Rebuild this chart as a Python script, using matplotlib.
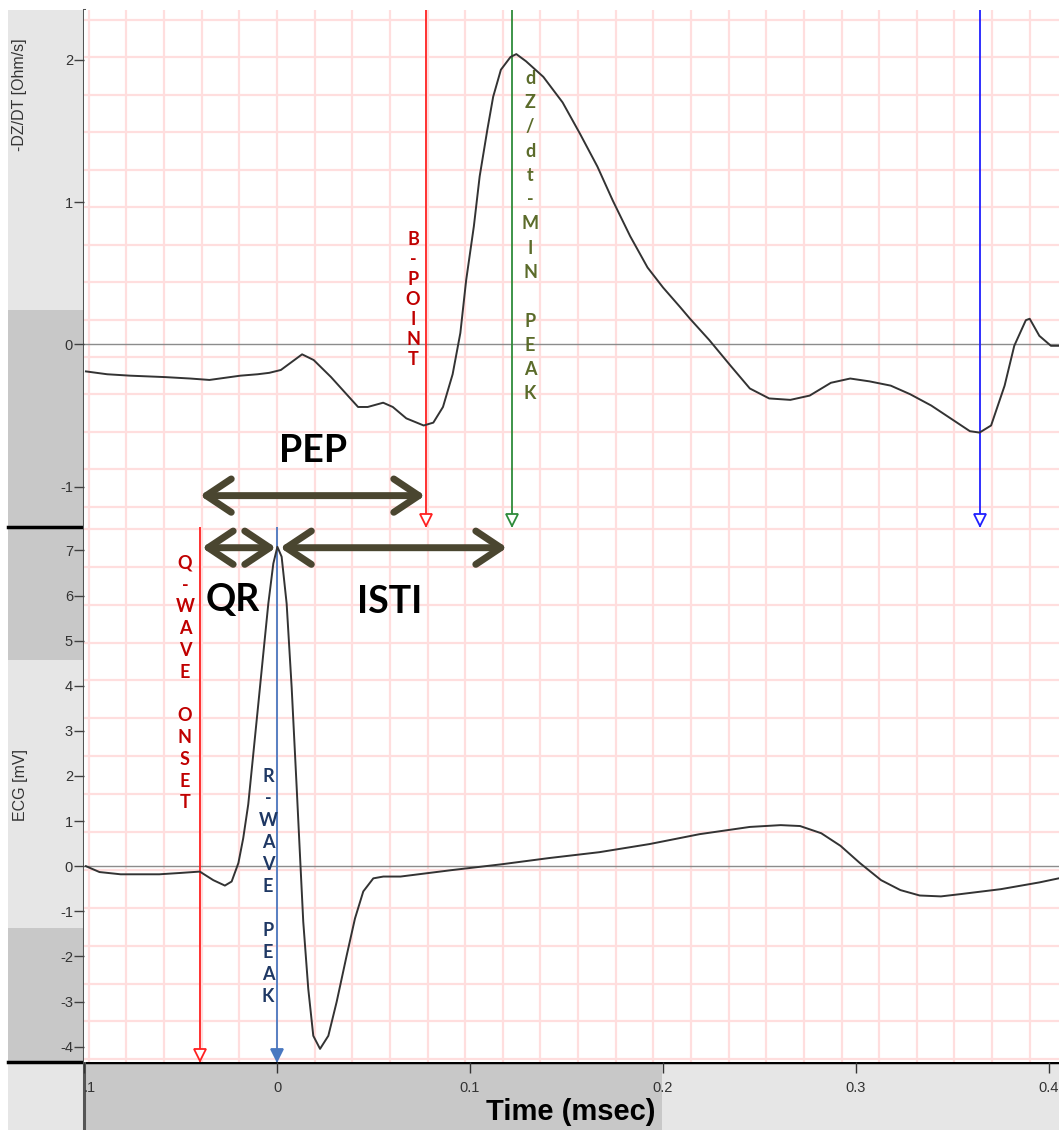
import matplotlib
matplotlib.use("Agg")
import matplotlib.pyplot as plt
from matplotlib.patches import Rectangle, FancyArrowPatch
import numpy as np

plt.rcParams.update({
    "font.family": ["Liberation Sans", "DejaVu Sans"],
    "font.size": 10,
    "axes.unicode_minus": False,
})

# impedance cardiogram (-dZ/dt), time in s
t_dzdt = [-0.099, -0.088, -0.076, -0.058, -0.045, -0.035, -0.019, -0.010, -0.004, 0.002,
          0.008, 0.013, 0.019, 0.028, 0.036, 0.042, 0.047, 0.055, 0.060, 0.067,
          0.076, 0.081, 0.086, 0.091, 0.095, 0.098, 0.102, 0.105, 0.109, 0.112,
          0.116, 0.121, 0.124, 0.129, 0.138, 0.148, 0.157, 0.166, 0.174, 0.183,
          0.192, 0.200, 0.209, 0.214, 0.224, 0.235, 0.245, 0.255, 0.266, 0.276,
          0.287, 0.297, 0.307, 0.318, 0.328, 0.339, 0.349, 0.359, 0.364, 0.370,
          0.377, 0.382, 0.388, 0.390, 0.395, 0.401, 0.405]
dzdt = [-0.19, -0.21, -0.22, -0.23, -0.24, -0.25, -0.22, -0.21, -0.20, -0.18,
        -0.12, -0.07, -0.11, -0.23, -0.35, -0.44, -0.44, -0.41, -0.44, -0.52,
        -0.57, -0.55, -0.44, -0.21, 0.08, 0.45, 0.83, 1.18, 1.51, 1.74,
        1.93, 2.02, 2.04, 1.99, 1.88, 1.70, 1.48, 1.25, 1.01, 0.76,
        0.54, 0.40, 0.26, 0.18, 0.03, -0.15, -0.31, -0.38, -0.39, -0.36,
        -0.27, -0.24, -0.26, -0.29, -0.35, -0.43, -0.52, -0.61, -0.62, -0.57,
        -0.29, -0.01, 0.17, 0.18, 0.06, -0.01, -0.01]

# ECG
t_ecg = [-0.099, -0.092, -0.081, -0.061, -0.050, -0.040, -0.033, -0.027, -0.0235, -0.020,
         -0.0175, -0.0149, -0.0123, -0.0097, -0.0071, -0.0045, -0.0019, 0.0002, 0.0024, 0.0050,
         0.0076, 0.0102, 0.0119, 0.0136, 0.0162, 0.0188, 0.0223, 0.0266, 0.0309, 0.0361,
         0.0404, 0.0447, 0.0499, 0.0551, 0.064, 0.090, 0.116, 0.141, 0.167, 0.193,
         0.219, 0.245, 0.261, 0.271, 0.282, 0.292, 0.302, 0.313, 0.323, 0.333,
         0.344, 0.354, 0.375, 0.395, 0.405]
ecg = [0.0, -0.13, -0.18, -0.18, -0.15, -0.12, -0.31, -0.43, -0.34, 0.07,
       0.62, 1.37, 2.48, 3.59, 4.71, 5.82, 6.71, 7.08, 6.86, 5.82,
       3.96, 1.74, 0.25, -1.23, -2.72, -3.76, -4.05, -3.76, -3.01, -1.98,
       -1.16, -0.56, -0.27, -0.23, -0.23, -0.09, 0.04, 0.18, 0.31, 0.49,
       0.71, 0.87, 0.91, 0.89, 0.73, 0.45, 0.07, -0.31, -0.53, -0.65,
       -0.67, -0.62, -0.51, -0.36, -0.27]

# event markers (s)
b_point = 0.077
dzdt_min = 0.122
x_point = 0.364
q_onset = -0.040
r_peak = 0.0

xticks = [-0.1, 0.0, 0.1, 0.2, 0.3, 0.4]
xtick_labels = [".1", "0", "0.1", "0.2", "0.3", "0.4"]

W, H = 1059, 1130
fig = plt.figure(figsize=(W / 100, H / 100), dpi=100)

# background strips (pixel coords)
bg = fig.add_axes([0, 0, 1, 1], zorder=0)
bg.set_xlim(0, W)
bg.set_ylim(H, 0)
bg.axis("off")
light, dark = "#e6e6e6", "#c8c8c8"
for (x0, y0, x1, y1, c) in [
    (8, 10, 84, 310, light), (8, 310, 84, 527, dark),
    (8, 527, 84, 660, dark), (8, 660, 84, 928, light), (8, 928, 84, 1062, dark),
    (8, 1062, 84, H, light), (84, 1062, 662, H, dark), (662, 1062, W, H, light),
]:
    bg.add_patch(Rectangle((x0, y0), x1 - x0, y1 - y0, color=c, lw=0))
bg.plot([8, W], [526.5, 526.5], color="black", lw=2.5)
bg.plot([8, W], [1061.5, 1061.5], color="black", lw=2.5)
bg.plot([84, 84], [10, H], color="#555555", lw=2.2, zorder=5)

L = 84 / W
ax1 = fig.add_axes([L, 1 - 526.5 / H, 1 - L, (526.5 - 10) / H], zorder=2)
ax2 = fig.add_axes([L, 1 - 1061.5 / H, 1 - L, (1061.5 - 526.5) / H], zorder=2)

xlim = (-0.1, (W - 277) / 1930)
ax1.set_xlim(xlim)
ax2.set_xlim(xlim)
ax1.set_ylim(-1.28, 2.35)
ax2.set_ylim(-4.33, 7.53)

grid_c = "#ffdede"
xg = np.concatenate([np.arange(0, -0.101, -0.0195), np.arange(0.0195, 0.41, 0.0195)])
for ax, y0, step in [(ax1, 2.282, 0.2634), (ax2, 6.637, 0.84)]:
    lo, hi = ax.get_ylim()
    yg = np.concatenate([np.arange(y0, lo, -step), np.arange(y0 + step, hi, step)])
    for x in xg:
        ax.axvline(x, color=grid_c, lw=1.6, zorder=0)
    for y in yg:
        ax.axhline(y, color=grid_c, lw=1.6, zorder=0)
    ax.axhline(0, color="#8c8c8c", lw=1.0, zorder=1)
    for s in ax.spines.values():
        s.set_visible(False)
    ax.tick_params(axis="y", direction="out", length=7, width=1, color="#404040",
                   labelcolor="#333333", labelsize=10.5, pad=1)

ax1.set_yticks([-1, 0, 1, 2])
ax2.set_yticks(range(-4, 8))
ax1.set_xticks([])

ax2.set_xticks(xticks)
ax2.set_xticklabels(xtick_labels)
ax2.tick_params(axis="x", direction="out", length=8, width=1, color="#333333",
                labelcolor="#333333", labelsize=10.5, pad=6)
ax2.get_xticklabels()[0].set_horizontalalignment("left")

fig.text(20 / W, 1 - 95 / H, "-DZ/DT [Ohm/s]", rotation=90, ha="center", va="center",
         fontsize=11.5, color="#333333")
fig.text(20 / W, 1 - 785 / H, "ECG [mV]", rotation=90, ha="center", va="center",
         fontsize=11.5, color="#333333")
fig.text(571 / W, 1 - 1112 / H, "Time (msec)", ha="center", va="center",
         fontsize=21, fontweight="bold", family=["Liberation Sans Narrow", "Liberation Sans"])

# signals
ax1.plot(t_dzdt, dzdt, color="#333333", lw=1.4, zorder=4)
ax2.plot(t_ecg, ecg, color="#333333", lw=1.4, zorder=4)

# vertical event lines with triangle markers
for ax, xv, col, fill in [(ax1, b_point, "#ff2020", "white"), (ax1, dzdt_min, "#2e8b3a", "white"),
                          (ax1, x_point, "#2020ff", "white"), (ax2, q_onset, "#ff2020", "white"),
                          (ax2, r_peak, "#4a78c0", "#4a78c0")]:
    ax.axvline(xv, color=col, lw=1.3, zorder=3)
    ax.plot([xv], [0.012], transform=ax.get_xaxis_transform(), marker="v", ms=9,
            mfc=fill, mec=col, mew=1.3, clip_on=False, zorder=6)

# vertical letter labels
lab_font = dict(family=["Lato", "DejaVu Sans"], fontweight="bold", ha="center", va="top",
                fontsize=13)
ax1.text(0.0705, 0.80, "\n".join("B-POINT"), color="#c00000", linespacing=1.22, **lab_font)
ax1.text(0.1311, 1.93, "\n".join(["d", "Z", "/", "d", "t", "-", "M", "I", "N", "", "P", "E", "A", "K"]),
         color="#5b6b2a", linespacing=1.52, **lab_font)
ax2.text(-0.0477, 6.90, "\n".join(["Q", "-", "W", "A", "V", "E", "", "O", "N", "S", "E", "T"]),
         color="#c00000", linespacing=1.34, **lab_font)
ax2.text(-0.0047, 2.18, "\n".join(["R", "-", "W", "A", "V", "E", "", "P", "E", "A", "K"]),
         color="#1f3864", linespacing=1.36, **lab_font)

# interval arrows
arrow_c = "#4a4630"
for ax, x0, x1, y in [(ax1, -0.0399, 0.0767, -1.063), (ax2, -0.0389, -0.0005, 7.06),
                      (ax2, 0.0016, 0.1192, 7.06)]:
    ax.add_patch(FancyArrowPatch((x0, y), (x1, y), arrowstyle="<->,head_length=0.9,head_width=0.6",
                                 mutation_scale=20, lw=5, color=arrow_c, shrinkA=0, shrinkB=0,
                                 zorder=7))

big = dict(family=["Lato", "DejaVu Sans"], fontweight="bold", ha="center", va="center",
           fontsize=27, color="black")
ax1.text(0.0187, -0.746, "PEP", **big)
ax2.text(-0.0228, 5.90, "QR", **big)
ax2.text(0.0585, 5.86, "ISTI", **big)

fig.savefig("out.png", dpi=100)
